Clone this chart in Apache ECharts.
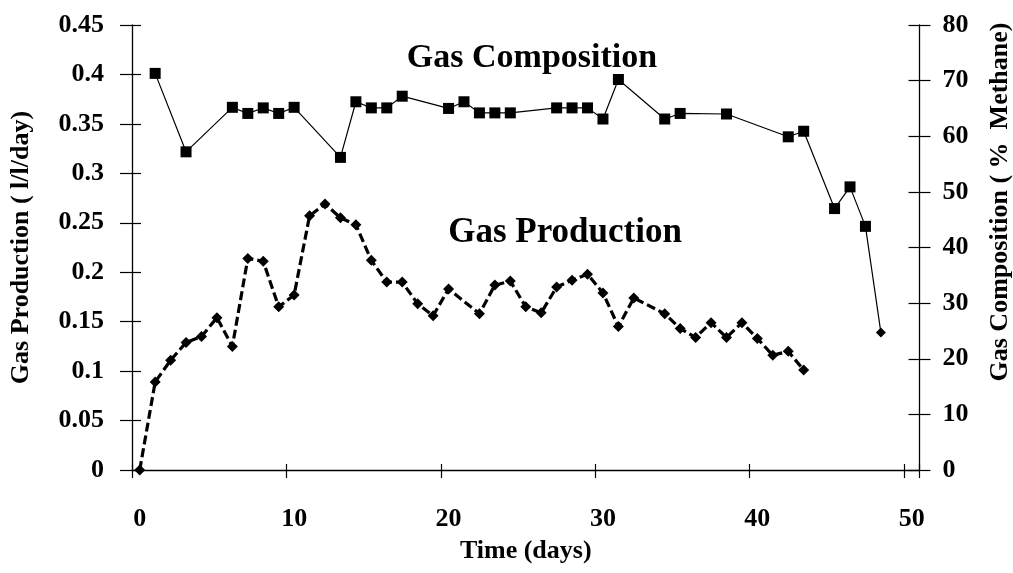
<!DOCTYPE html>
<html>
<head>
<meta charset="utf-8">
<script src="https://cdn.jsdelivr.net/npm/echarts@6/dist/echarts.min.js"></script>
<style>
  html, body { margin: 0; padding: 0; background: #fff; }
  #chart { width: 1013px; height: 573px; }
</style>
</head>
<body>
<div id="chart"></div>
<script>
// Day categories 0..50 on the time axis
const dayCategories = [];
for (let d = 0; d <= 50; d++) dayCategories.push(String(d));

// Gas composition, % methane (right axis)
const compositionDays = [1, 3, 6, 7, 8, 9, 10, 13, 14, 15, 16, 17, 20, 21, 22, 23, 24,
  27, 28, 29, 30, 31, 34, 35, 38, 42, 43, 45, 46, 47, 48];
const compositionMethane = [71.3, 57.2, 65.2, 64.1, 65.1, 64.1, 65.2, 56.2, 66.2, 65.1, 65.1, 67.2,
  65.0, 66.2, 64.2, 64.2, 64.2, 65.1, 65.1, 65.1, 63.1, 70.2, 63.1, 64.1, 64.0, 59.9, 60.9,
  47.0, 50.9, 43.8, 24.7];

// Gas production, l/l/day (left axis)
const productionDays = [0, 1, 2, 3, 4, 5, 6, 7, 8, 9, 10, 11, 12, 13, 14, 15, 16, 17, 18, 19, 20,
  22, 23, 24, 25, 26, 27, 28, 29, 30, 31, 32,
  34, 35, 36, 37, 38, 39, 40, 41, 42, 43];
const productionRate = [0, 0.089, 0.111, 0.129, 0.135, 0.154, 0.125, 0.214, 0.211, 0.165, 0.177,
  0.257, 0.269, 0.255, 0.248, 0.212, 0.190, 0.190, 0.168, 0.156, 0.183,
  0.158, 0.187, 0.191, 0.165, 0.159, 0.185, 0.192, 0.198, 0.179, 0.145, 0.174,
  0.158, 0.143, 0.134, 0.149, 0.134, 0.149, 0.133, 0.116, 0.120, 0.101];

const FONT = '"Liberation Serif", "Times New Roman", serif';
const INK = '#000';

const compositionData = compositionDays.map((d, i) => {
  const item = { value: [String(d), compositionMethane[i]] };
  if (i === compositionDays.length - 1) { item.symbol = 'diamond'; item.symbolSize = 10; }
  return item;
});
const productionData = productionDays.map((d, i) => [String(d), productionRate[i]]);

const labelStyle = { fontFamily: FONT, fontWeight: 'bold', fontSize: 26, color: INK };
const axisLine = { show: true, lineStyle: { color: INK, width: 1.3 } };

const chart = echarts.init(document.getElementById('chart'), null, { renderer: 'canvas' });
chart.setOption({
  animation: false,
  backgroundColor: '#fff',
  grid: { left: 129, right: 93.5, top: 25, bottom: 103, containLabel: false },
  xAxis: [
    {
      type: 'category', data: dayCategories, boundaryGap: true,
      axisLine: axisLine,
      axisTick: { show: true, interval: 9, length: 8, lineStyle: { color: INK, width: 1.2 } },
      axisLabel: Object.assign({ interval: 9, margin: 36 }, labelStyle),
      splitLine: { show: false },
      name: 'Time (days)', nameLocation: 'middle', nameGap: 68,
      nameTextStyle: { fontFamily: FONT, fontWeight: 'bold', fontSize: 26, color: INK }
    },
    {
      type: 'category', data: dayCategories, boundaryGap: true, position: 'bottom',
      axisLine: { show: false },
      axisTick: { show: true, inside: true, interval: 9, length: 6, lineStyle: { color: INK, width: 1.2 } },
      axisLabel: { show: false }, splitLine: { show: false }
    }
  ],
  yAxis: [
    {
      type: 'value', position: 'left', min: 0, max: 0.45, interval: 0.05,
      axisLine: axisLine,
      axisTick: { show: true, length: 12, lineStyle: { color: INK, width: 1.2 } },
      axisLabel: Object.assign({ margin: 28 }, labelStyle),
      splitLine: { show: false },
      name: 'Gas Production ( l/l/day)', nameLocation: 'middle', nameGap: 98,
      nameTextStyle: { fontFamily: FONT, fontWeight: 'bold', fontSize: 26, color: INK }
    },
    {
      type: 'value', position: 'right', min: 0, max: 80, interval: 10,
      axisLine: axisLine,
      axisTick: { show: true, length: 11, lineStyle: { color: INK, width: 1.2 } },
      axisLabel: Object.assign({ margin: 23 }, labelStyle),
      splitLine: { show: false }
    },
    {
      type: 'value', position: 'left', min: 0, max: 0.45, interval: 0.05,
      axisLine: { show: false },
      axisTick: { show: true, inside: true, length: 9, lineStyle: { color: INK, width: 1.2 } },
      axisLabel: { show: false }, splitLine: { show: false }
    },
    {
      type: 'value', position: 'right', min: 0, max: 80, interval: 10,
      axisLine: { show: false },
      axisTick: { show: true, inside: true, length: 11, lineStyle: { color: INK, width: 1.2 } },
      axisLabel: { show: false }, splitLine: { show: false }
    }
  ],
  graphic: [
    {
      type: 'text', x: 1000, y: 202, rotation: Math.PI / 2,
      style: {
        text: 'Gas Composition ( %  Methane)', fontFamily: FONT, fontWeight: 'bold',
        fontSize: 26, fill: INK, align: 'center', verticalAlign: 'middle'
      }
    },
    {
      type: 'text', x: 532, y: 58,
      style: {
        text: 'Gas Composition', fontFamily: FONT, fontWeight: 'bold',
        fontSize: 34, fill: INK, align: 'center', verticalAlign: 'middle'
      }
    },
    {
      type: 'text', x: 565, y: 233,
      style: {
        text: 'Gas Production', fontFamily: FONT, fontWeight: 'bold',
        fontSize: 35, fill: INK, align: 'center', verticalAlign: 'middle'
      }
    }
  ],
  series: [
    {
      name: 'Gas Composition', type: 'line', xAxisIndex: 0, yAxisIndex: 1,
      data: compositionData,
      symbol: 'rect', symbolSize: 11, showAllSymbol: true,
      itemStyle: { color: INK },
      lineStyle: { color: INK, width: 1.2 },
      z: 3
    },
    {
      name: 'Gas Production', type: 'line', xAxisIndex: 0, yAxisIndex: 0,
      data: productionData,
      symbol: 'diamond', symbolSize: 11, showAllSymbol: true,
      itemStyle: { color: INK },
      lineStyle: { color: INK, width: 3.2, type: [9, 4] },
      z: 3
    }
  ]
});
</script>
</body>
</html>
